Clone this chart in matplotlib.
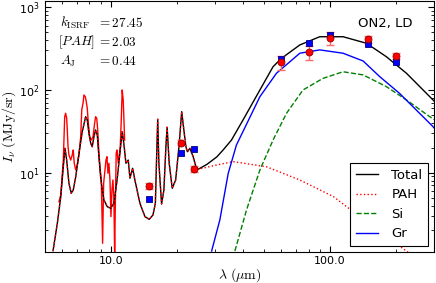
import numpy as np
import matplotlib
matplotlib.use("Agg")
import matplotlib.pyplot as plt
from matplotlib.ticker import FormatStrFormatter, NullFormatter

plt.rcParams['mathtext.fontset'] = 'cm'

# observed spectrum (red, jagged)
lam_spec = [5.81, 5.92, 6.08, 6.17, 6.23, 6.30, 6.34, 6.39, 6.45, 6.57, 6.68, 6.75,
            6.82, 6.93, 7.04, 7.17, 7.30, 7.38, 7.48, 7.55, 7.66, 7.74, 7.82, 7.91,
            8.02, 8.16, 8.31, 8.45, 8.54, 8.64, 8.73, 8.84, 8.94, 9.06, 9.19, 9.29,
            9.39, 9.52, 9.62, 9.72, 9.82, 9.93, 10.03, 10.14, 10.24, 10.35, 10.43,
            10.49, 10.60, 10.70, 10.83, 10.94, 11.06, 11.18, 11.29, 11.41, 11.50, 11.58]
I_spec = [4.46, 5.38, 14.2, 47.5, 52.3, 45.5, 32.8, 20.6, 16.4, 14.2, 16.4, 18.8,
          13.0, 10.8, 12.4, 16.4, 27.2, 57.3, 69.0, 87.0, 83.0, 72.2, 60.1, 39.6,
          27.2, 24.8, 27.2, 39.6, 47.5, 45.5, 32.8, 17.2, 11.8, 8.16, 1.40, 7.44,
          9.84, 14.2, 15.6, 9.84, 13.0, 8.16, 2.94, 6.18, 8.16, 4.68, 1.0,
          3.23, 17.2, 18.8, 13.0, 15.6, 20.6, 43.4, 100.0, 75.7, 43.4, 24.8]

# model: total
lam_tot = [5.46, 5.71, 5.92, 6.08, 6.19, 6.30, 6.45, 6.61, 6.75, 6.93, 7.17, 7.42,
           7.69, 7.82, 7.96, 8.11, 8.24, 8.39, 8.54, 8.69, 8.84, 9.00, 9.16, 9.32,
           9.65, 10.0, 10.35, 10.7, 11.1, 11.3, 11.53, 11.74, 12.03, 12.25, 12.6,
           12.9, 13.6, 14.34, 15.0, 15.6, 16.0, 16.26, 16.4, 16.6, 17.08, 17.5,
           17.87, 18.1, 18.5, 19.1, 19.8, 20.5, 21.1, 21.4, 22.05, 22.4, 23.0,
           23.8, 24.5, 25.1, 27.5, 30.5, 32.6, 35.6, 40.2, 48.0, 55.1, 60.2, 73.0,
           90.0, 115.0, 147.0, 181.0, 224.0, 300.0]
I_tot = [1.14, 2.44, 5.13, 11.8, 19.7, 14.2, 7.45, 5.64, 6.18, 8.95, 17.2, 31.3,
         47.5, 43.4, 29.9, 22.7, 20.6, 27.2, 32.8, 28.6, 15.6, 8.95, 6.18, 4.68,
         3.88, 3.71, 4.27, 8.16, 20.6, 31.3, 20.6, 13.0, 14.2, 8.56, 11.3,
         8.16, 4.27, 2.94, 2.73, 3.08, 4.27, 20.6, 44.2, 13.0, 4.18, 6.18,
         20.6, 35.4, 13.0, 6.48, 8.16, 20.6, 54.7, 39.6, 20.6, 17.9, 19.7,
         15.6, 11.8, 11.0, 12.6, 15.5, 18.8, 24.8, 43.4, 100.0, 191.0, 241.0, 350.0,
         440.0, 440.0, 367.0, 253.0, 159.0, 73.0]

# model: PAH (follows total at short wavelengths)
lam_pah = lam_tot[:60] + [30.5, 36.2, 51.4, 73.0, 104.0, 137.0, 181.0, 224.0, 260.0]
I_pah = I_tot[:60] + [12.4, 13.6, 11.8, 8.16, 5.13, 2.94, 1.68, 1.13, 0.8]

# model: silicates
lam_si = [36.9, 41.7, 48.0, 55.1, 63.5, 75.5, 93.1, 115.0, 142.0, 181.0, 224.0, 286.0, 300.0]
I_si = [1.13, 3.54, 10.8, 24.8, 52.3, 100.0, 138.0, 166.0, 152.0, 110.0, 75.7, 47.5, 44.0]

# model: graphite
lam_gr = [28.9, 31.5, 34.4, 37.5, 48.0, 57.1, 73.0, 90.0, 115.0, 142.0, 169.0, 208.0, 296.0, 300.0]
I_gr = [1.13, 2.68, 9.8, 21.6, 83.0, 159.0, 278.0, 305.0, 278.0, 224.0, 145.0, 91.2, 36.0, 34.5]

# photometry
lam_obs = [15, 21, 24, 60, 80, 100, 150, 200]
I_obs = [6.9, 23.1, 11.1, 216, 286, 422, 410, 260]
err_obs = [0.5, 1.5, 0.8, 44, 58, 75, 40, 22]
I_mod = [4.81, 17.5, 19.2, 235, 367, 462, 357, 218]

fig = plt.figure(figsize=(4.36, 2.83), dpi=100)
ax = fig.add_axes([0.1025, 0.1085, 0.8936, 0.888])

ax.plot(lam_spec, I_spec, color='r', lw=1.0)
l1, = ax.plot(lam_tot, I_tot, color='k', lw=1.0, label='Total')
l2, = ax.plot(lam_pah, I_pah, color='r', lw=1.0, ls=':', label='PAH')
l3, = ax.plot(lam_si, I_si, color='g', lw=1.0, ls='--', label='Si')
l4, = ax.plot(lam_gr, I_gr, color='b', lw=1.0, label='Gr')

ax.errorbar(lam_obs, I_obs, yerr=err_obs, fmt='none', ecolor='#ff6a6a', elinewidth=1,
            capsize=3, zorder=4)
ax.plot(lam_obs, I_mod, 's', color='b', mec='#000080', ms=4.5, mew=0.6, zorder=5)
ax.plot(lam_obs, I_obs, 'o', color='r', mec='#900000', ms=5, mew=0.6, zorder=6)

ax.set_xscale('log')
ax.set_yscale('log')
ax.set_xlim(5, 300)
ax.set_ylim(1.09, 1190)

ax.xaxis.set_major_formatter(FormatStrFormatter('%.1f'))
ax.xaxis.set_minor_formatter(NullFormatter())
ax.tick_params(which='both', direction='in', top=True, right=True, labelsize=8)
ax.tick_params(which='major', length=4, width=0.8)
ax.tick_params(which='minor', length=2, width=0.6)
ax.tick_params(axis='x', pad=2.5)

ax.set_xlabel(r'$\lambda\ (\mu\rm m)$', fontsize=10, labelpad=0)
ax.set_ylabel(r'$I_\nu\ (\rm MJy/sr)$', fontsize=10, labelpad=1)

ax.text(0.039, 0.898, r'$k_{\rm ISRF}$', transform=ax.transAxes, fontsize=9.5)
ax.text(0.133, 0.898, r'$=27.45$', transform=ax.transAxes, fontsize=9.5)
ax.text(0.035, 0.822, r'$[PAH]$', transform=ax.transAxes, fontsize=9.5)
ax.text(0.133, 0.822, r'$=2.03$', transform=ax.transAxes, fontsize=9.5)
ax.text(0.039, 0.745, r'$A_{\rm J}$', transform=ax.transAxes, fontsize=9.5)
ax.text(0.133, 0.745, r'$=0.44$', transform=ax.transAxes, fontsize=9.5)

ax.text(0.943, 0.898, 'ON2, LD', transform=ax.transAxes, ha='right', fontsize=9.5)

leg = ax.legend(handles=[l1, l2, l3, l4], loc='lower right', fontsize=9.5,
                fancybox=False, framealpha=1, edgecolor='k', handlelength=1.7,
                handletextpad=1.0, borderaxespad=0.5)
leg.get_frame().set_linewidth(0.8)

fig.savefig('out.png', dpi=100)
